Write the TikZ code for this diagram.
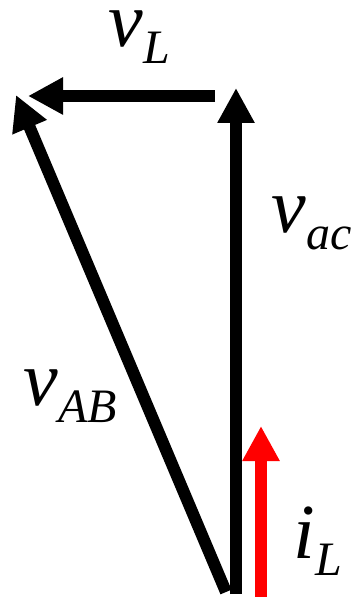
\documentclass[tikz,border=0pt]{standalone}
\usepackage{fontspec}
\setmainfont{Liberation Serif}
\usetikzlibrary{arrows.meta}
\newcommand{\vlab}[2]{{\itshape #1}\raisebox{-8.5pt}{\fontsize{24pt}{24pt}\selectfont\itshape #2}}
\begin{document}
\begin{tikzpicture}[x=0.5pt,y=-0.5pt,
  vec/.style={line width=6pt,-{Triangle[length=17.5pt,width=17.5pt]}},
  lab/.style={anchor=base west,inner sep=0pt,text height=19pt,font=\fontsize{39pt}{39pt}\selectfont}]
\useasboundingbox (0,0) rectangle (354,597);
\coordinate (acS) at (236,594);
\coordinate (acE) at (236,88);
\coordinate (LS) at (215,96);
\coordinate (LE) at (28,96);
\coordinate (ABS) at (226,592);
\coordinate (ABE) at (16,95);
\coordinate (iS) at (261,597);
\coordinate (iE) at (261,426);
\draw[vec] (acS) -- (acE);
\draw[vec] (LS) -- (LE);
\draw[vec] (ABS) -- (ABE);
\draw[vec,red] (iS) -- (iE);
\node[lab] (tL) at (108,47) {\vlab{v}{L}};
\node[lab] (tac) at (271,233) {\vlab{v}{ac}};
\node[lab] (tAB) at (23,405) {\vlab{v}{AB}};
\node[lab] (ti) at (293,558) {\vlab{i}{L}};
\end{tikzpicture}
\end{document}
